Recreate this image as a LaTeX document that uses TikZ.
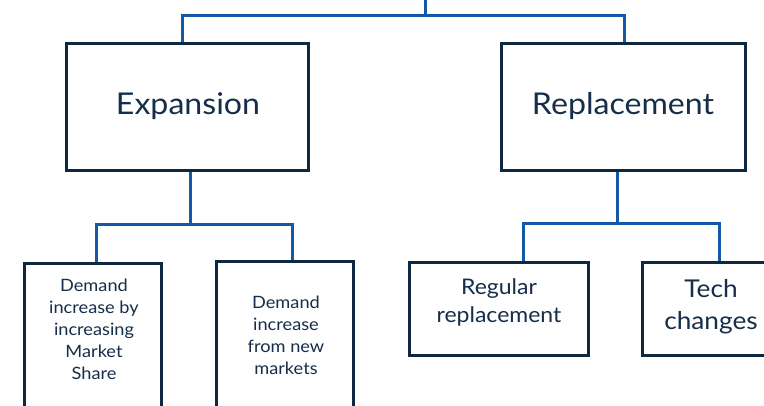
\documentclass[tikz,border=0pt]{standalone}
\usepackage{fontspec}
\setmainfont{Lato}[FakeStretch=1.07]
\definecolor{boxc}{RGB}{14,40,65}
\definecolor{linec}{RGB}{20,88,168}
\definecolor{textc}{RGB}{22,46,74}
\begin{document}
\begin{tikzpicture}[x=1pt,y=-1pt,
  box/.style={draw=boxc, line width=3.2pt, fill=white, rectangle, inner sep=0pt},
  conn/.style={draw=linec, line width=3pt},
  lbl/.style={text=textc, align=center, inner sep=0pt},
  big/.style={lbl, font=\fontsize{30}{34}\selectfont},
  small/.style={lbl, font=\fontsize{17}{22}\selectfont},
  mid/.style={lbl, font=\fontsize{21.5}{28}\selectfont},
  large/.style={lbl, font=\fontsize{24.5}{32}\selectfont}]
\useasboundingbox (0,0) rectangle (764,406);

% level 1 boxes
\node[box, minimum width=242, minimum height=127] (exp) at (187.5,107) {};
\node[box, minimum width=244, minimum height=127] (rep) at (623.5,107) {};
% level 2 boxes
\node[box, minimum width=137, minimum height=170] (share) at (93,348.5) {};
\node[box, minimum width=137, minimum height=170] (newm) at (285,346.5) {};
\node[box, minimum width=179, minimum height=93] (reg) at (499,309) {};
\node[box, minimum width=137, minimum height=93] (tech) at (711,309) {};

% labels
\node[big] (expT) at (188,106) {Expansion};
\node[big] (repT) at (623,106) {Replacement};
\node[small] (shareT) at (94,329) {Demand\\increase by\\increasing\\Market\\Share};
\node[small] (newmT) at (286,335) {Demand\\increase\\from new\\markets};
\node[mid] (regT) at (499,302) {Regular\\replacement};
\node[large] (techT) at (711,307) {Tech\\changes};

% connectors
\coordinate (top) at (425,-2);
\draw[conn] (top) -- (425,16) -| ([xshift=-5.5]exp.north);
\draw[conn] (425,16) -| ([xshift=0.5]rep.north);
\draw[conn] ([xshift=2.5]exp.south) -- ++(0,52) -| ([xshift=3]share.north);
\draw[conn] ([xshift=2.5]exp.south) ++(0,52) -| ([xshift=7]newm.north);
\draw[conn] ([xshift=-6.5]rep.south) -- ++(0,51) -| ([xshift=24]reg.north);
\draw[conn] ([xshift=-6.5]rep.south) ++(0,51) -| ([xshift=8]tech.north);
\end{tikzpicture}
\end{document}
